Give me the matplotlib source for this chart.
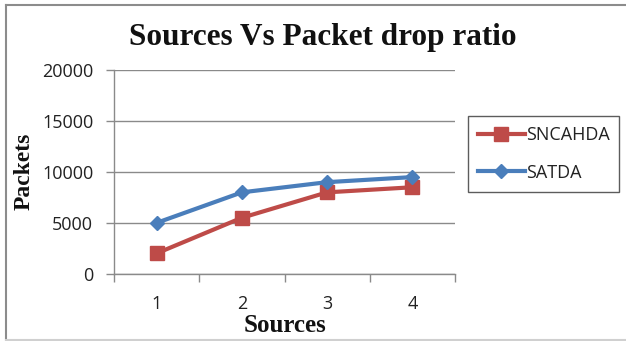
import matplotlib
matplotlib.use("Agg")
import matplotlib.pyplot as plt
from matplotlib.lines import Line2D

# Data
sources = [1, 2, 3, 4]
sncahda = [2000, 5500, 8000, 8500]
satda = [5000, 8000, 9000, 9500]
y_ticks = [0, 5000, 10000, 15000, 20000]

W, H = 626, 341
fig = plt.figure(figsize=(W / 100, H / 100), dpi=100)
fig.patch.set_facecolor("white")

ax = fig.add_axes([114 / W, 1 - 273.7 / H, (455 - 114) / W, (273.7 - 70.3) / H])

x = list(range(len(sources)))
ax.plot(x, sncahda, color="#BE4B48", lw=3.0, marker="s", ms=10,
        mfc="#BE4B48", mec="#BE4B48", label="SNCAHDA", zorder=3)
ax.plot(x, satda, color="#4A7EBB", lw=3.0, marker="D", ms=7.5,
        mfc="#4A7EBB", mec="#4A7EBB", label="SATDA", zorder=4)

ax.set_xlim(-0.5, len(sources) - 0.5)
ax.set_ylim(0, 20000)
ax.set_yticks(y_ticks)
ax.set_yticklabels([str(v) for v in y_ticks], fontfamily="Open Sans", fontsize=13)
ax.set_xticks(x)
ax.set_xticklabels([str(s) for s in sources], fontfamily="Open Sans", fontsize=13)
ax.tick_params(axis="x", which="major", length=0, pad=15, colors="#222222")
ax.set_xticks([i - 0.5 for i in range(len(sources) + 1)], minor=True)
ax.tick_params(axis="x", which="minor", length=6, width=1, color="#8a8a8a", direction="out")
ax.tick_params(axis="y", length=6, width=1, color="#8a8a8a", pad=9, colors="#222222")
for lab in ax.get_yticklabels():
    lab.set_color("#222222")

ax.grid(axis="y", color="#8a8a8a", lw=1.0)
ax.set_axisbelow(True)
for s in ["top", "right"]:
    ax.spines[s].set_visible(False)
for s in ["left", "bottom"]:
    ax.spines[s].set_color("#8a8a8a")
    ax.spines[s].set_linewidth(1.0)

# Titles
fig.text(323 / W, 1 - 37 / H, "Sources Vs Packet drop ratio", ha="center", va="center",
         fontfamily="Liberation Serif", fontweight="bold", fontsize=22.5, color="#111111")
fig.text(285 / W, 1 - 325 / H, "Sources", ha="center", va="center",
         fontfamily="Liberation Serif", fontweight="bold", fontsize=18, color="#111111")
fig.text(24 / W, 1 - 171 / H, "Packets", ha="center", va="center", rotation=90,
         fontfamily="Liberation Serif", fontweight="bold", fontsize=17, color="#111111")

# Legend
leg = fig.legend(loc="upper left", bbox_to_anchor=(468 / W, 1 - 116 / H),
                 bbox_transform=fig.transFigure, frameon=True, fancybox=False,
                 prop={"family": "Open Sans", "size": 13}, handlelength=2.6,
                 handletextpad=0.05, borderpad=0.55, labelspacing=1.1, borderaxespad=0)
leg.get_frame().set_edgecolor("#333333")
leg.get_frame().set_linewidth(1.0)
for t in leg.get_texts():
    t.set_color("#222222")

# Outer border of the chart area
fig.add_artist(Line2D([6 / W, 6 / W], [1.5 / H, 1 - 5 / H], transform=fig.transFigure,
                      color="#8c8c8c", lw=1.5))
fig.add_artist(Line2D([6 / W, 1.0], [1 - 5 / H, 1 - 5 / H], transform=fig.transFigure,
                      color="#8c8c8c", lw=1.5))
fig.add_artist(Line2D([6 / W, 1.0], [1.5 / H, 1.5 / H], transform=fig.transFigure,
                      color="#d0d0d0", lw=1.5))

fig.savefig("out.png", dpi=100)
